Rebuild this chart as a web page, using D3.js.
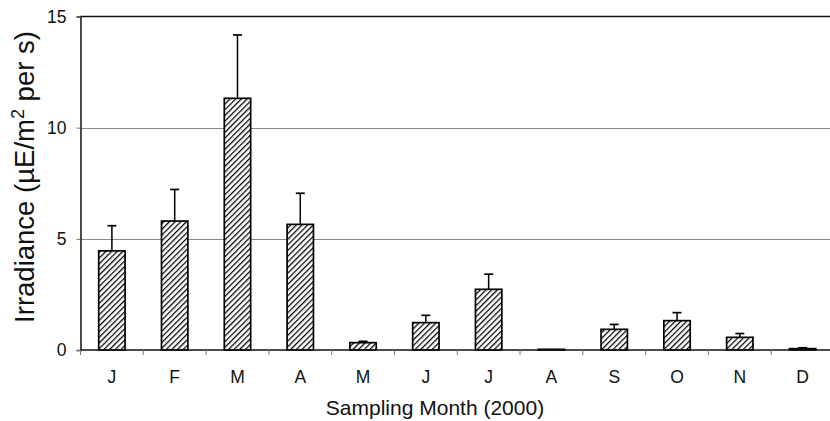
<!DOCTYPE html>
<html>
<head>
<meta charset="utf-8">
<script src="https://cdn.jsdelivr.net/npm/d3@7"></script>
<style>
  html, body { margin: 0; padding: 0; background: #fff; }
  svg { display: block; font-family: Arial, "Liberation Sans", sans-serif; }
</style>
</head>
<body>
<svg id="chart" width="830" height="421"></svg>
<script>
// Monthly mean irradiance with +1 error bar, sampling year 2000
const months = ["J", "F", "M", "A", "M", "J", "J", "A", "S", "O", "N", "D"];
const irradiance = [4.46, 5.8, 11.32, 5.65, 0.33, 1.23, 2.73, 0.03, 0.93, 1.32, 0.57, 0.06];
const errors = [1.13, 1.42, 2.85, 1.4, 0.06, 0.33, 0.68, 0, 0.22, 0.36, 0.17, 0.04];
const yTicks = [0, 5, 10, 15];

const svg = d3.select("#chart");
const margin = { left: 80.5, top: 16.5, bottom: 71 };
const plotRight = 834;
const H = 421;
const y0 = H - margin.bottom;

const x = d3.scaleBand()
  .domain(d3.range(months.length))
  .range([margin.left, plotRight])
  .paddingInner(0.58)
  .paddingOuter(0.29);

const xCat = d3.scaleBand()
  .domain(d3.range(months.length))
  .range([margin.left, plotRight])
  .padding(0);

const y = d3.scaleLinear().domain([0, 15]).range([y0, margin.top]);

// diagonal hatch fill for the bars
const defs = svg.append("defs");
const pat = defs.append("pattern")
  .attr("id", "hatch")
  .attr("patternUnits", "userSpaceOnUse")
  .attr("width", 4)
  .attr("height", 4)
  .attr("patternTransform", "rotate(45)");
pat.append("rect").attr("width", 4).attr("height", 4).attr("fill", "#fff");
pat.append("line")
  .attr("x1", 0).attr("y1", 0).attr("x2", 0).attr("y2", 4)
  .attr("stroke", "#000").attr("stroke-width", 2.5);

// horizontal gridlines
svg.append("g")
  .selectAll("line")
  .data(yTicks.filter(t => t > 0 && t < 15))
  .join("line")
  .attr("x1", margin.left).attr("x2", 830)
  .attr("y1", d => Math.round(y(d)) + 0.5).attr("y2", d => Math.round(y(d)) + 0.5)
  .attr("stroke", "#8a8a8a")
  .attr("stroke-width", 1);

// top border of the plot area
svg.append("line")
  .attr("x1", margin.left).attr("x2", 830)
  .attr("y1", y(15)).attr("y2", y(15))
  .attr("stroke", "#111").attr("stroke-width", 1.3);

// y axis
const yAxis = svg.append("g")
  .attr("transform", `translate(${margin.left},0)`)
  .call(d3.axisLeft(y).tickValues(yTicks).tickSize(4).tickPadding(10));
yAxis.select(".domain").attr("stroke", "#111").attr("stroke-width", 1.5);
yAxis.selectAll(".tick line").attr("stroke", "#777");
yAxis.selectAll(".tick text")
  .attr("font-size", "17.5px")
  .attr("fill", "#111")
  .attr("font-family", "Arial, 'Liberation Sans', sans-serif");

// bars
svg.append("g")
  .selectAll("rect")
  .data(irradiance)
  .join("rect")
  .attr("x", (d, i) => x(i))
  .attr("y", d => y(d))
  .attr("width", x.bandwidth())
  .attr("height", d => y0 - y(d))
  .attr("fill", "url(#hatch)")
  .attr("stroke", "#000")
  .attr("stroke-width", 1.7);

// error bars (upper arm only)
const eb = svg.append("g")
  .selectAll("g")
  .data(irradiance.map((v, i) => ({ v, e: errors[i], i })).filter(d => d.e > 0))
  .join("g");
eb.append("line")
  .attr("x1", d => x(d.i) + x.bandwidth() / 2)
  .attr("x2", d => x(d.i) + x.bandwidth() / 2)
  .attr("y1", d => y(d.v))
  .attr("y2", d => y(d.v + d.e))
  .attr("stroke", "#000").attr("stroke-width", 1.5);
eb.append("line")
  .attr("x1", d => x(d.i) + x.bandwidth() / 2 - 4.5)
  .attr("x2", d => x(d.i) + x.bandwidth() / 2 + 4.5)
  .attr("y1", d => y(d.v + d.e))
  .attr("y2", d => y(d.v + d.e))
  .attr("stroke", "#000").attr("stroke-width", 1.7);

// x axis: ticks at category boundaries, labels at centres
const xAxisG = svg.append("g").attr("transform", `translate(0,${y0})`);
xAxisG.append("line")
  .attr("x1", margin.left).attr("x2", 830)
  .attr("y1", 0).attr("y2", 0)
  .attr("stroke", "#111").attr("stroke-width", 1.5);
xAxisG.selectAll("line.tk")
  .data(d3.range(months.length + 1))
  .join("line")
  .attr("class", "tk")
  .attr("x1", i => i < months.length ? xCat(i) : plotRight)
  .attr("x2", i => i < months.length ? xCat(i) : plotRight)
  .attr("y1", 0).attr("y2", 5)
  .attr("stroke", "#777").attr("stroke-width", 1);
xAxisG.selectAll("text")
  .data(months)
  .join("text")
  .attr("x", (d, i) => xCat(i) + xCat.bandwidth() / 2)
  .attr("y", 33)
  .attr("text-anchor", "middle")
  .attr("font-size", "17.5px")
  .attr("fill", "#111")
  .text(d => d);

// axis titles
svg.append("text")
  .attr("x", 435)
  .attr("y", 415)
  .attr("text-anchor", "middle")
  .attr("font-size", "21px")
  .attr("fill", "#111")
  .text("Sampling Month (2000)");

const yt = svg.append("text")
  .attr("transform", "translate(34,177) rotate(-90)")
  .attr("text-anchor", "middle")
  .attr("font-size", "27.5px")
  .attr("fill", "#111");
yt.append("tspan").text("Irradiance (µE/m");
yt.append("tspan").attr("font-size", "18px").attr("dy", -10).text("2");
yt.append("tspan").attr("dy", 10).text(" per s)");
</script>
</body>
</html>
